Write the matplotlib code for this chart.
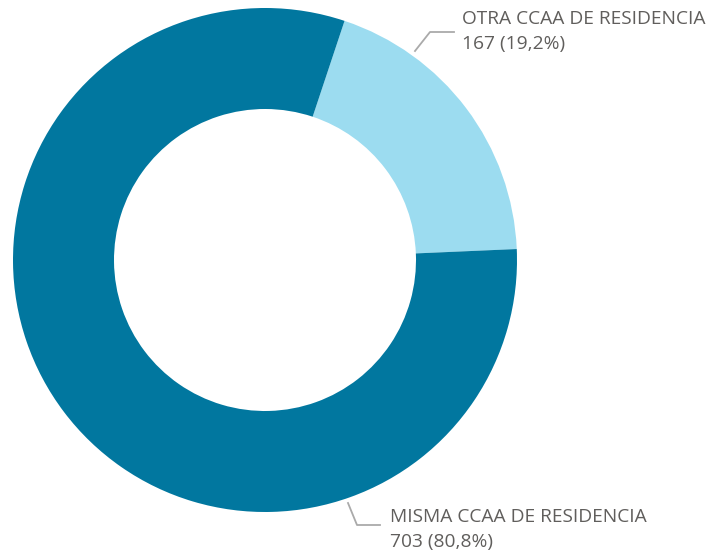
import matplotlib.pyplot as plt

labels = ['OTRA CCAA DE RESIDENCIA', 'MISMA CCAA DE RESIDENCIA']
values = [167, 703]
pcts = ['19,2%', '80,8%']
colors = ['#9CDCF0', '#01779F']

W, H = 725, 555
fig = plt.figure(figsize=(W / 100, H / 100), dpi=100)
ax = fig.add_axes([0, 0, 1, 1])

cx, cy, r = 265, H - 260, 252
ax.pie(values, colors=colors, startangle=71.6, counterclock=False,
       center=(cx, cy), radius=r, frame=True,
       wedgeprops=dict(width=101, linewidth=0))
ax.set_xlim(0, W)
ax.set_ylim(0, H)
ax.set_aspect('equal')
ax.axis('off')

txt = dict(family='Open Sans', fontsize=13.8, color='#605E5C', va='baseline', ha='left')
lc = '#AAAAAA'

# top label
ax.plot([415, 430, 454], [H - 51, H - 32, H - 32], color=lc, lw=1.3)
ax.text(462, H - 24.5, labels[0], **txt)
ax.text(462, H - 49, f'{values[0]} ({pcts[0]})', **txt)

# bottom label
ax.plot([348, 357, 380], [H - 503, H - 525, H - 525], color=lc, lw=1.3)
ax.text(390, H - 521.7, labels[1], **txt)
ax.text(390, H - 547, f'{values[1]} ({pcts[1]})', **txt)

fig.savefig('out.png', dpi=100)
